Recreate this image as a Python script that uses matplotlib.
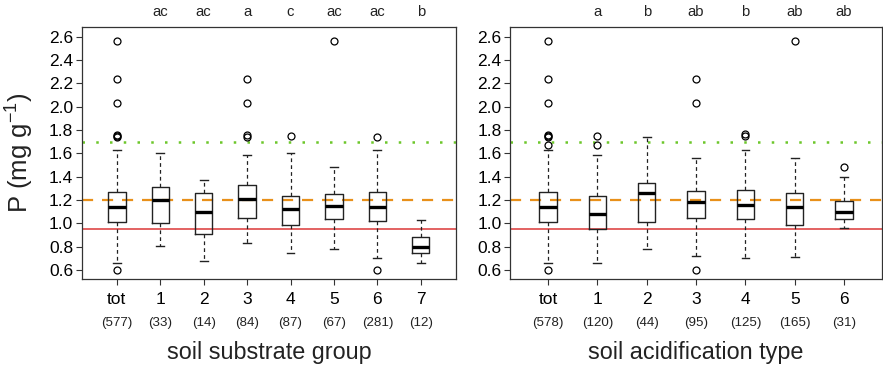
import matplotlib
matplotlib.use("Agg")
import matplotlib.pyplot as plt
from matplotlib.transforms import blended_transform_factory

plt.rcParams['font.family'] = ['Liberation Sans', 'DejaVu Sans']
plt.rcParams['mathtext.fontset'] = 'custom'
plt.rcParams['mathtext.rm'] = 'Liberation Sans'
plt.rcParams['mathtext.it'] = 'Liberation Sans:italic'
plt.rcParams['mathtext.bf'] = 'Liberation Sans:bold'

# --- data (P in mg/g) ---
# left panel: soil substrate group
sub_labels = ["tot", "1", "2", "3", "4", "5", "6", "7"]
sub_n = [577, 33, 14, 84, 87, 67, 281, 12]
sub_letters = ["", "ac", "ac", "a", "c", "ac", "ac", "b"]
sub_med = [1.14, 1.20, 1.10, 1.21, 1.12, 1.15, 1.14, 0.80]
sub_q1 = [1.01, 1.00, 0.91, 1.05, 0.99, 1.035, 1.02, 0.745]
sub_q3 = [1.27, 1.31, 1.26, 1.325, 1.235, 1.25, 1.27, 0.885]
sub_lo = [0.66, 0.81, 0.68, 0.83, 0.75, 0.78, 0.70, 0.66]
sub_hi = [1.63, 1.60, 1.37, 1.59, 1.60, 1.48, 1.63, 1.03]
sub_out = [[2.56, 2.24, 2.03, 1.76, 1.75, 1.74, 0.60],
           [], [],
           [2.24, 2.03, 1.76, 1.74],
           [1.75],
           [2.56],
           [1.74, 0.60],
           []]

# right panel: soil acidification type
acid_labels = ["tot", "1", "2", "3", "4", "5", "6"]
acid_n = [578, 120, 44, 95, 125, 165, 31]
acid_letters = ["", "a", "b", "ab", "b", "ab", "ab"]
acid_med = [1.14, 1.08, 1.26, 1.18, 1.16, 1.14, 1.10]
acid_q1 = [1.01, 0.955, 1.015, 1.05, 1.04, 0.99, 1.035]
acid_q3 = [1.27, 1.235, 1.35, 1.28, 1.285, 1.26, 1.195]
acid_lo = [0.66, 0.66, 0.78, 0.72, 0.70, 0.71, 0.96]
acid_hi = [1.63, 1.59, 1.74, 1.56, 1.63, 1.56, 1.40]
acid_out = [[2.56, 2.24, 2.03, 1.76, 1.75, 1.74, 1.67, 0.60],
            [1.75, 1.67],
            [],
            [2.24, 2.03, 0.60],
            [1.77, 1.745],
            [2.56],
            [1.48]]

# reference levels
green_level = 1.70
orange_level = 1.20
red_level = 0.95

fig = plt.figure(figsize=(8.83, 3.68), dpi=100)
ax1 = fig.add_axes([0.0925, 0.2418, 0.4239, 0.6856])
ax2 = fig.add_axes([0.5776, 0.2418, 0.4214, 0.6856])


def panel(ax, labels, n, letters, med, q1, q3, lo, hi, out, xlabel, width, xpad):
    stats = []
    for i in range(len(labels)):
        stats.append(dict(med=med[i], q1=q1[i], q3=q3[i], whislo=lo[i],
                          whishi=hi[i], fliers=out[i]))
    pos = list(range(1, len(labels) + 1))
    ax.bxp(stats, positions=pos, widths=width, capwidths=width * 0.45,
           boxprops=dict(color="#222222", linewidth=1.0),
           medianprops=dict(color="black", linewidth=2.4, solid_capstyle="butt"),
           whiskerprops=dict(color="#222222", linewidth=0.9, linestyle=(0, (3, 2.5))),
           capprops=dict(color="#222222", linewidth=1.0),
           flierprops=dict(marker="o", markersize=5, markerfacecolor="none",
                           markeredgecolor="black", markeredgewidth=0.9),
           zorder=3)
    ax.axhline(green_level, color="#6cc72a", linestyle=(0, (1, 4.5)), linewidth=1.8, zorder=2)
    ax.axhline(orange_level, color="#e8901a", linestyle=(0, (5, 4)), linewidth=1.6, zorder=2)
    ax.axhline(red_level, color="#e05555", linestyle="-", linewidth=1.3, zorder=2)

    ax.set_xlim(1 - xpad, len(labels) + xpad)
    ax.set_ylim(0.523, 2.686)
    ax.set_yticks([0.6, 0.8, 1.0, 1.2, 1.4, 1.6, 1.8, 2.0, 2.2, 2.4, 2.6])
    ax.set_yticklabels([f"{v:.1f}" for v in ax.get_yticks()])
    ax.set_xticks(pos)
    ax.set_xticklabels(labels)
    ax.tick_params(axis="both", labelsize=12.5, length=4, width=0.8, color="#333333")
    ax.tick_params(axis="x", pad=5)
    ax.tick_params(axis="y", pad=2)
    for s in ax.spines.values():
        s.set_color("#333333")
        s.set_linewidth(0.9)

    tr = blended_transform_factory(ax.transData, ax.transAxes)
    for i, p in enumerate(pos):
        ax.text(p, -0.174, f"({n[i]})", transform=tr, ha="center", va="center",
                fontsize=9.6, color="#222222")
        if letters[i]:
            ax.text(p, 1.058, letters[i], transform=tr, ha="center", va="center",
                    fontsize=10.7, color="#222222")
    ax.text(0.5, -0.293, xlabel, transform=ax.transAxes, ha="center", va="center",
            fontsize=16.8, color="#222222")


panel(ax1, sub_labels, sub_n, sub_letters, sub_med, sub_q1, sub_q3, sub_lo, sub_hi,
      sub_out, "soil substrate group", 0.4, 0.81)
panel(ax2, acid_labels, acid_n, acid_letters, acid_med, acid_q1, acid_q3, acid_lo,
      acid_hi, acid_out, "soil acidification type", 0.35, 0.77)

fig.text(0.0227, 0.585, r"P (mg g$^{-1}$)", rotation=90, ha="center", va="center",
         fontsize=18.5, color="#222222")

fig.savefig("out.png", dpi=100)
